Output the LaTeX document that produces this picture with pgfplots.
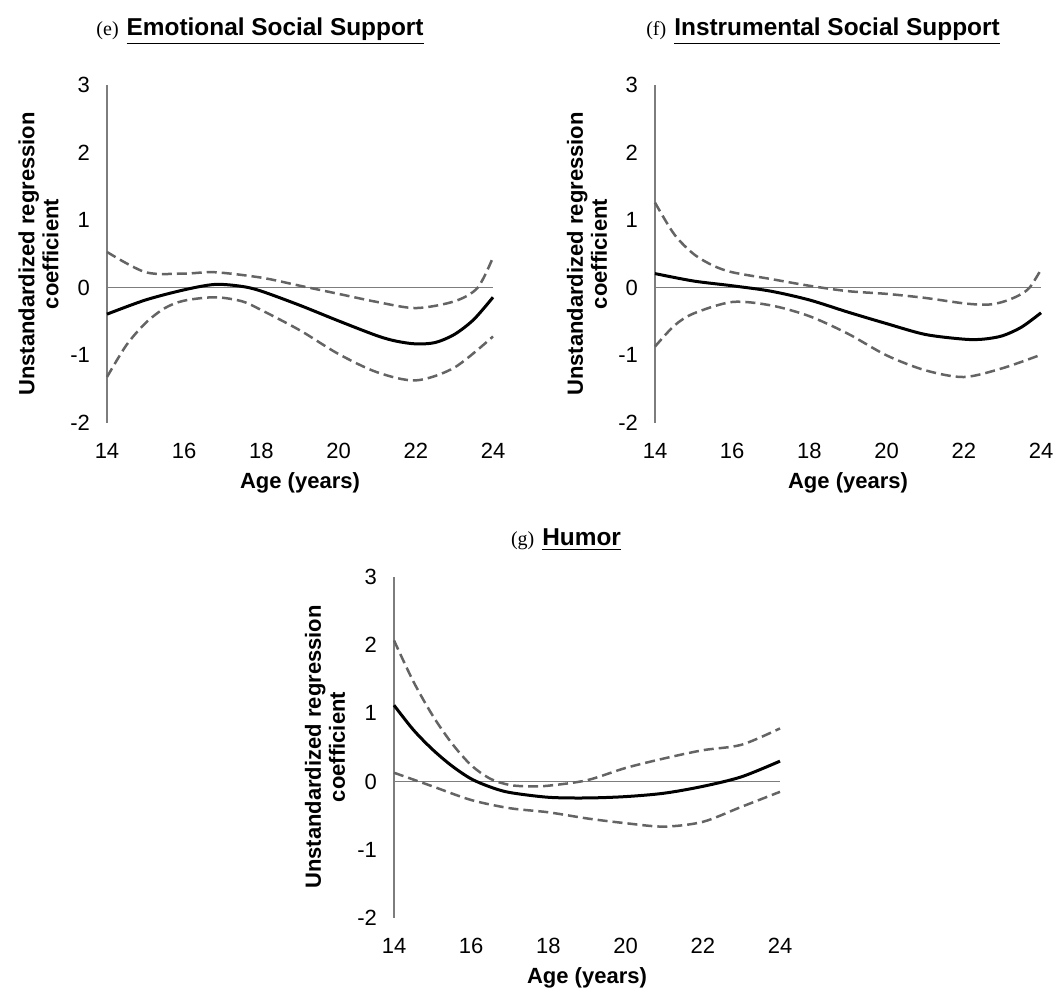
\documentclass[border=0pt]{standalone}
\usepackage{fontspec}
\setmainfont{Liberation Sans}
\newfontfamily\seriffont{Liberation Serif}
\usepackage{pgfplots}
\pgfplotsset{compat=1.18}
\definecolor{dashgray}{RGB}{100,100,100}
\definecolor{axgray}{RGB}{125,125,125}
\pgfplotsset{
  panel/.style={
    scale only axis, anchor=south west,
    xmin=14, xmax=24, ymin=-2, ymax=3,
    axis lines=left, axis line style={-},
    x axis line style={draw=none},
    y axis line style={axgray, line width=0.6pt},
    xtick={14,16,18,20,22,24}, xticklabels={14,16,18,20,22,24},
    ytick={-2,-1,0,1,2,3}, yticklabels={-2,-1,0,1,2,3},
    major tick length=0pt,
    tick label style={font=\fontsize{11}{13}\selectfont},
    xticklabel style={yshift=-6.5pt},
    yticklabel style={xshift=-5pt},
    clip=false,
  },
  ci/.style={dashgray, line width=1.25pt, smooth, dash pattern=on 5pt off 2.5pt, no marks},
  est/.style={black, line width=1.5pt, smooth, no marks},
  zero/.style={axgray, line width=0.6pt, no marks},
}
\newcommand{\ttl}[2]{{\fontsize{10}{12}\seriffont (#1)}\hspace{4pt}{\fontsize{12.2}{14}\selectfont\bfseries\underline{#2}}}
\newcommand{\ylab}{\fontsize{11}{13.5}\selectfont\bfseries}
\begin{document}
\begin{tikzpicture}
\useasboundingbox (0,0) rectangle (527pt,495pt);
% (e)
\begin{axis}[panel, at={(53.5pt,283.5pt)}, width=193pt, height=169pt]
\addplot[zero] coordinates {(14,0) (24,0)};
\addplot[ci] coordinates {(14,0.53) (15,0.23) (16,0.21) (16.8,0.23) (18,0.15) (19,0.03) (20,-0.09) (21,-0.21) (22,-0.30) (23,-0.20) (23.6,0) (24,0.45)};
\addplot[ci] coordinates {(14,-1.32) (14.5,-0.85) (15,-0.52) (15.5,-0.30) (16,-0.19) (16.8,-0.14) (17.5,-0.20) (18,-0.33) (19,-0.63) (20,-0.98) (21,-1.25) (22,-1.37) (23,-1.18) (24,-0.72)};
\addplot[est] coordinates {(14,-0.39) (15,-0.18) (16,-0.03) (16.8,0.05) (17.5,0.02) (18,-0.05) (19,-0.26) (20,-0.49) (21,-0.71) (21.5,-0.79) (22,-0.83) (22.5,-0.81) (23,-0.69) (23.5,-0.47) (24,-0.14)};
\end{axis}
% (f)
\begin{axis}[panel, at={(327.5pt,283.5pt)}, width=193pt, height=169pt]
\addplot[zero] coordinates {(14,0) (24,0)};
\addplot[ci] coordinates {(14,1.26) (14.5,0.79) (15,0.50) (15.5,0.33) (16,0.23) (17,0.13) (18,0.03) (19,-0.05) (20,-0.09) (21,-0.15) (22,-0.23) (22.6,-0.25) (23,-0.21) (23.4,-0.12) (23.7,0) (24,0.27)};
\addplot[ci] coordinates {(14,-0.87) (14.5,-0.56) (15,-0.38) (16,-0.21) (17,-0.26) (18,-0.42) (19,-0.68) (20,-1.00) (21,-1.22) (22,-1.32) (23,-1.19) (24,-0.99)};
\addplot[est] coordinates {(14,0.21) (15,0.10) (16,0.03) (17,-0.05) (18,-0.18) (19,-0.36) (20,-0.53) (21,-0.69) (22,-0.76) (22.5,-0.76) (23,-0.71) (23.5,-0.58) (24,-0.37)};
\end{axis}
% (g)
\begin{axis}[panel, at={(197pt,36pt)}, width=193pt, height=170.5pt]
\addplot[zero] coordinates {(14,0) (24,0)};
\addplot[ci] coordinates {(14,2.07) (14.5,1.47) (15,0.97) (15.5,0.56) (16,0.24) (16.5,0.04) (17,-0.05) (17.5,-0.07) (18,-0.06) (19,0.02) (20,0.20) (21,0.34) (22,0.46) (23,0.54) (24,0.78)};
\addplot[ci] coordinates {(14,0.13) (15,-0.07) (16,-0.27) (17,-0.39) (18,-0.45) (19,-0.54) (20,-0.61) (21,-0.66) (22,-0.59) (23,-0.37) (24,-0.15)};
\addplot[est] coordinates {(14,1.12) (14.5,0.76) (15,0.47) (15.5,0.23) (16,0.04) (16.5,-0.08) (17,-0.16) (18,-0.23) (19,-0.24) (20,-0.22) (21,-0.17) (22,-0.07) (23,0.07) (24,0.30)};
\end{axis}
% titles
\node[anchor=base, inner sep=0] at (130pt,477pt) {\ttl{e}{Emotional Social Support}};
\node[anchor=base, inner sep=0] at (411.5pt,477pt) {\ttl{f}{Instrumental Social Support}};
\node[anchor=base, inner sep=0] at (283pt,222pt) {\ttl{g}{Humor}};
% y labels
\node[rotate=90, align=center, inner sep=0] at (19.25pt,368pt) {\ylab Unstandardized regression\\ \ylab coefficient};
\node[rotate=90, align=center, inner sep=0] at (293.5pt,368pt) {\ylab Unstandardized regression\\ \ylab coefficient};
\node[rotate=90, align=center, inner sep=0] at (162.5pt,121.5pt) {\ylab Unstandardized regression\\ \ylab coefficient};
% x labels
\node[inner sep=0] at (150pt,253.5pt) {\ylab Age (years)};
\node[inner sep=0] at (424pt,253.5pt) {\ylab Age (years)};
\node[inner sep=0] at (293.5pt,6pt) {\ylab Age (years)};
\end{tikzpicture}
\end{document}
